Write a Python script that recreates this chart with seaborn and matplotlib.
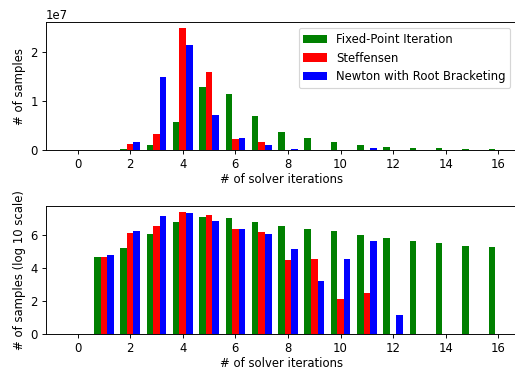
import numpy as np
import pandas as pd
import matplotlib
matplotlib.use("Agg")
import matplotlib.pyplot as plt
import seaborn as sns

# ---- data ----
iterations = list(range(0, 17))
methods = ["Fixed-Point Iteration", "Steffensen", "Newton with Root Bracketing"]
colors = ["green", "red", "blue"]

# top panel: number of samples (linear)
fixed_point_counts = [0, 4.5e4, 2.0e5, 1.0e6, 5.7e6, 1.28e7, 1.14e7, 6.9e6, 3.7e6,
                      2.5e6, 1.7e6, 9.5e5, 6.0e5, 4.3e5, 3.1e5, 2.2e5, 1.9e5]
steffensen_counts = [0, 4.5e4, 1.2e6, 3.3e6, 2.49e7, 1.60e7, 2.2e6, 1.6e6, 3.0e4,
                     3.4e4, 130, 290, 0, 0, 0, 0, 0]
newton_counts = [0, 6.0e4, 1.7e6, 1.49e7, 2.14e7, 7.2e6, 2.5e6, 1.1e6, 1.35e5,
                 1.6e3, 3.4e4, 4.2e5, 13, 0, 0, 0, 0]

# bottom panel: log10 of number of samples
fixed_point_log = [0, 4.65, 5.19, 6.04, 6.77, 7.09, 7.05, 6.81, 6.56,
                   6.36, 6.22, 6.00, 5.80, 5.64, 5.49, 5.35, 5.27]
steffensen_log = [0, 4.65, 6.10, 6.52, 7.40, 7.19, 6.34, 6.20, 4.46,
                  4.53, 2.10, 2.46, 0, 0, 0, 0, 0]
newton_log = [0, 4.77, 6.24, 7.17, 7.33, 6.85, 6.38, 6.06, 5.13,
              3.21, 4.53, 5.62, 1.13, 0, 0, 0, 0]

xticks = [0, 2, 4, 6, 8, 10, 12, 14, 16]
xlabel = "# of solver iterations"
ylabel_top = "# of samples"
ylabel_bottom = "# of samples (log 10 scale)"


def long_frame(series):
    rows = []
    for m, vals in zip(methods, series):
        for it, v in zip(iterations, vals):
            rows.append({"iterations": it, "method": m, "value": v})
    return pd.DataFrame(rows)


df_top = long_frame([fixed_point_counts, steffensen_counts, newton_counts])
df_bot = long_frame([fixed_point_log, steffensen_log, newton_log])
palette = dict(zip(methods, colors))

DPI = 84
fig = plt.figure(figsize=(515 / DPI, 370 / DPI), dpi=DPI)
ax1 = fig.add_axes([46 / 515, 1 - 150 / 370, 470 / 515, 127.7 / 370])
ax2 = fig.add_axes([46 / 515, 1 - 334 / 370, 470 / 515, 128.3 / 370])

for ax, df, ylab, show_leg in [(ax1, df_top, ylabel_top, True),
                                (ax2, df_bot, ylabel_bottom, False)]:
    sns.barplot(data=df, x="iterations", y="value", hue="method",
                hue_order=methods, palette=palette, native_scale=True,
                width=0.75, saturation=1, errorbar=None, linewidth=0,
                legend=show_leg, ax=ax)
    ax.set_xlim(-1.2, 16.67)
    ax.set_xticks(xticks)
    ax.set_xticklabels([str(t) for t in xticks])
    ax.set_xlabel(xlabel, labelpad=1.5)
    ax.set_ylabel(ylab)

ax1.set_ylim(0, 2.61e7)
ax2.set_ylim(0, 7.78)
ax1.legend(loc="upper right", title=None)

fig.savefig("out.png", dpi=DPI)
